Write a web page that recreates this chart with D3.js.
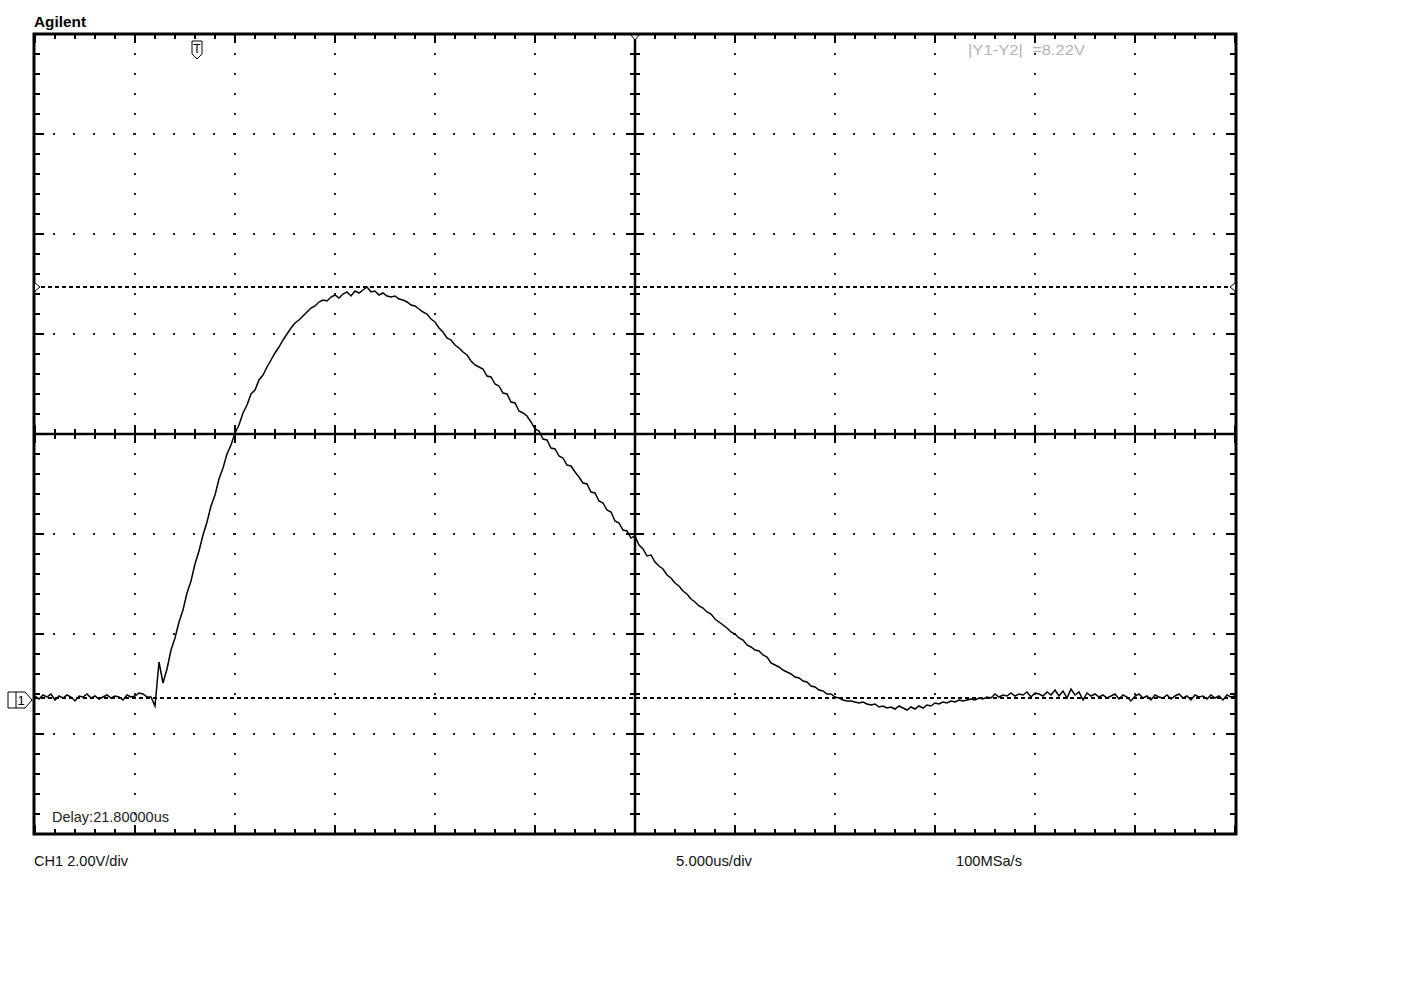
<!DOCTYPE html>
<html>
<head>
<meta charset="utf-8">
<script src="https://cdn.jsdelivr.net/npm/d3@7"></script>
<style>
  body { margin: 0; background: #fff; }
  text { font-family: "Liberation Sans Narrow", "Arial Narrow", "Liberation Sans", Arial, sans-serif; }
</style>
</head>
<body>
<svg id="scope"></svg>
<script>
// scope settings
const timeStart = -30;      // us, left edge of screen
const timeEnd = 30;         // us, right edge
const sampleStep = 0.2;     // us between stored points
const voltsPerDiv = 2;
const usPerDiv = 5;
const cursorY1 = 8.22;      // V
const cursorY2 = 0;         // V
const labels = {
  brand: "Agilent",
  delta: "|Y1-Y2|  =8.22V",
  delay: "Delay:21.80000us",
  ch1: "CH1 2.00V/div",
  timebase: "5.000us/div",
  rate: "100MSa/s"
};

// CH1 trace in volts, one value per sampleStep
const baseline = [0.04, -0.02, 0.06, 0.02, 0.08, -0.04, 0.04, 0.00, 0.06, 0.02,
  -0.06, 0.04, 0.02, 0.08, 0.00, 0.04, -0.02, 0.02, 0.06, 0.00,
  0.04, 0.02, -0.04, 0.06, 0.02, 0.04, 0.10, 0.08, 0.02];
const riseEdge = [0.02, -0.16, 0.72, 0.30, 0.58, 0.96, 1.20, 1.52, 1.76, 2.10,
  2.34, 2.68, 2.94, 3.26, 3.52, 3.84, 4.06, 4.38, 4.60, 4.88, 5.06, 5.30];
const peak = [5.46, 5.70, 5.86, 6.08, 6.16, 6.36, 6.46, 6.62, 6.76, 6.90,
  7.02, 7.16, 7.28, 7.40, 7.50, 7.56, 7.64, 7.72, 7.80, 7.84,
  7.92, 7.96, 7.94, 8.02, 8.06, 8.00, 8.08, 8.12, 8.04, 8.14,
  8.10, 8.16, 8.22, 8.12, 8.14, 8.06, 8.10, 8.04, 8.02, 8.04,
  7.98, 7.96, 7.92, 7.86, 7.84, 7.78, 7.72, 7.68, 7.58, 7.52];
const fallEdge = [7.40, 7.32, 7.20, 7.16, 7.06, 7.00, 6.92, 6.86, 6.74, 6.66,
  6.62, 6.58, 6.44, 6.42, 6.28, 6.24, 6.10, 6.08, 5.92, 5.90,
  5.74, 5.70, 5.64, 5.52, 5.38, 5.34, 5.18, 5.16, 5.00, 4.98,
  4.84, 4.80, 4.66, 4.64, 4.52, 4.42, 4.30, 4.28, 4.12, 4.10,
  3.94, 3.90, 3.76, 3.72, 3.54, 3.50, 3.36, 3.34, 3.20, 3.24];
const tail = [3.06, 2.98, 2.84, 2.86, 2.72, 2.64, 2.58, 2.46, 2.40, 2.30,
  2.24, 2.14, 2.08, 1.98, 1.92, 1.84, 1.80, 1.72, 1.68, 1.58,
  1.52, 1.46, 1.40, 1.32, 1.28, 1.20, 1.16, 1.06, 1.02, 0.96,
  0.94, 0.86, 0.82, 0.70, 0.66, 0.62, 0.56, 0.52, 0.48, 0.42,
  0.40, 0.34, 0.32, 0.24, 0.22, 0.16, 0.14, 0.08, 0.08, 0.02,
  0.00, -0.04];
const settle = [-0.06, -0.06, -0.08, -0.10, -0.08, -0.12, -0.14, -0.12, -0.18, -0.16,
  -0.20, -0.18, -0.22, -0.16, -0.20, -0.24, -0.18, -0.22, -0.16, -0.20,
  -0.14, -0.16, -0.10, -0.12, -0.08, -0.10, -0.06, -0.08, -0.04, -0.06,
  -0.04, -0.02, -0.04, 0.00, -0.02, 0.02, 0.00, 0.08, 0.02, 0.06,
  0.04, 0.10, 0.04, 0.08, 0.06, 0.12, 0.02, 0.10, 0.08, 0.04,
  0.12, 0.06, 0.16, 0.04, 0.14, 0.00, 0.18, 0.06, 0.12, -0.04,
  0.10, 0.04, 0.08, 0.02, 0.06, 0.00, 0.04, 0.08, -0.02, 0.06,
  0.02, -0.06, 0.04, 0.08, 0.00, 0.04, -0.04, 0.06, 0.02, 0.00,
  0.06, -0.02, 0.04, 0.08, 0.00, 0.04, -0.04, 0.06, 0.02, 0.04,
  -0.02, 0.06, 0.00, 0.04, -0.04, 0.06, 0.02, 0.04];
const ch1 = [].concat(baseline, riseEdge, peak, fallEdge, tail, settle);

const width = 1403, height = 1001;
const gLeft = 34, gRight = 1236, gTop = 34, gBottom = 834;

const svg = d3.select("#scope").attr("width", width).attr("height", height);
svg.append("rect").attr("width", width).attr("height", height).attr("fill", "#fff");

const x = d3.scaleLinear().domain([timeStart, timeEnd]).range([35, 1235]);
// ground marker sits 1.36 div above the bottom edge
const y = d3.scaleLinear().domain([-1.36 * voltsPerDiv, 6.64 * voltsPerDiv]).range([gBottom, gTop]);

const yDivs = d3.range(9).map(i => y.domain()[0] + i * voltsPerDiv);
const xDivs = d3.range(timeStart, timeEnd + 0.001, usPerDiv);
const yMinor = d3.range(41).map(i => y.domain()[0] + i * voltsPerDiv / 5);
const xMinor = d3.range(timeStart, timeEnd + 0.001, usPerDiv / 5);
const midV = yDivs[4];

// dotted graticule
const grid = svg.append("g").attr("stroke", "#222").attr("stroke-width", 2)
  .attr("stroke-dasharray", "2,18").attr("stroke-dashoffset", 1);
grid.selectAll(".gx").data(xDivs.filter(t => t !== 0 && t > timeStart && t < timeEnd))
  .enter().append("line")
  .attr("x1", d => Math.round(x(d))).attr("x2", d => Math.round(x(d)))
  .attr("y1", gTop).attr("y2", gBottom);
grid.selectAll(".gy").data(yDivs.filter((d, i) => i > 0 && i < 8 && i !== 4))
  .enter().append("line")
  .attr("y1", d => Math.round(y(d))).attr("y2", d => Math.round(y(d)))
  .attr("x1", gLeft).attr("x2", gRight);

// center axes
const axes = svg.append("g").attr("stroke", "#000");
axes.append("line").attr("x1", gLeft).attr("x2", gRight)
  .attr("y1", y(midV)).attr("y2", y(midV)).attr("stroke-width", 2.5);
axes.append("line").attr("x1", x(0)).attr("x2", x(0))
  .attr("y1", gTop).attr("y2", gBottom).attr("stroke-width", 2.5);

const isMajorT = t => Math.abs(t / usPerDiv - Math.round(t / usPerDiv)) < 1e-6;
const isMajorV = (v, i) => i % 5 === 0;

axes.selectAll(".tx").data(xMinor).enter().append("line")
  .attr("stroke-width", 2)
  .attr("x1", d => Math.round(x(d))).attr("x2", d => Math.round(x(d)))
  .attr("y1", d => y(midV) - (isMajorT(d) ? 9 : 5))
  .attr("y2", d => y(midV) + (isMajorT(d) ? 9 : 5));
axes.selectAll(".ty").data(yMinor).enter().append("line")
  .attr("stroke-width", 2)
  .attr("y1", d => Math.round(y(d))).attr("y2", d => Math.round(y(d)))
  .attr("x1", (d, i) => x(0) - (isMajorV(d, i) ? 9 : 5))
  .attr("x2", (d, i) => x(0) + (isMajorV(d, i) ? 9 : 5));

// frame ticks
const frame = svg.append("g").attr("stroke", "#000").attr("stroke-width", 2);
xMinor.forEach(t => {
  const px = Math.round(x(t)), len = isMajorT(t) ? 9 : 5;
  frame.append("line").attr("x1", px).attr("x2", px).attr("y1", gTop).attr("y2", gTop + len);
  frame.append("line").attr("x1", px).attr("x2", px).attr("y1", gBottom).attr("y2", gBottom - len);
});
yMinor.forEach((v, i) => {
  const py = Math.round(y(v)), len = isMajorV(v, i) ? 10 : 6;
  frame.append("line").attr("y1", py).attr("y2", py).attr("x1", gLeft).attr("x2", gLeft + len);
  frame.append("line").attr("y1", py).attr("y2", py).attr("x1", gRight).attr("x2", gRight - len);
});
svg.append("rect").attr("x", gLeft).attr("y", gTop)
  .attr("width", gRight - gLeft).attr("height", gBottom - gTop)
  .attr("fill", "none").attr("stroke", "#000").attr("stroke-width", 3);

// cursors
[cursorY1, cursorY2].forEach(v => {
  svg.append("line").attr("x1", gLeft).attr("x2", gRight)
    .attr("y1", Math.round(y(v))).attr("y2", Math.round(y(v)))
    .attr("stroke", "#000").attr("stroke-width", 2).attr("stroke-dasharray", "4,3");
});
const cy1 = Math.round(y(cursorY1));
svg.append("path").attr("d", `M${gLeft + 1},${cy1 - 4}L${gLeft + 6},${cy1}L${gLeft + 1},${cy1 + 4}`)
  .attr("fill", "#fff").attr("stroke", "#000");
svg.append("path").attr("d", `M${gRight - 1},${cy1 - 4}L${gRight - 6},${cy1}L${gRight - 1},${cy1 + 4}`)
  .attr("fill", "#fff").attr("stroke", "#000");

// trace
const line = d3.line()
  .x((d, i) => x(timeStart + i * sampleStep))
  .y(d => y(d));
svg.append("path").datum(ch1).attr("d", line)
  .attr("fill", "none").attr("stroke", "#000").attr("stroke-width", 1.5)
  .attr("stroke-linejoin", "miter");

// ground marker for channel 1
const gy = Math.round(y(0)) + 2;
svg.append("path").attr("d", `M8,${gy - 8}H25L32,${gy}L25,${gy + 8}H8Z`)
  .attr("fill", "#fff").attr("stroke", "#000").attr("stroke-width", 1);
svg.append("line").attr("x1", 16).attr("x2", 16).attr("y1", gy - 8).attr("y2", gy + 8)
  .attr("stroke", "#000");
svg.append("text").attr("x", 21).attr("y", gy + 5).attr("font-size", 13)
  .attr("text-anchor", "middle").text("1");

// trigger marker and time reference
const tx = Math.round(x(-21.9));
svg.append("path").attr("d", `M${tx - 5},41H${tx + 5}V54L${tx},59L${tx - 5},54Z`)
  .attr("fill", "#fff").attr("stroke", "#000");
svg.append("text").attr("x", tx).attr("y", 53).attr("font-size", 12)
  .attr("text-anchor", "middle").text("T");
svg.append("path").attr("d", `M${x(0) - 4},35L${x(0) + 4},35L${x(0)},40Z`)
  .attr("fill", "#fff").attr("stroke", "#000");

// labels
svg.append("text").attr("x", 34).attr("y", 27).attr("font-size", 15)
  .attr("font-weight", "bold").style("font-family", "'Liberation Sans', Arial, sans-serif")
  .attr("textLength", 52).attr("lengthAdjust", "spacingAndGlyphs").text(labels.brand);
svg.append("text").attr("x", 968).attr("y", 55).attr("font-size", 15).attr("fill", "#b4b4b4")
  .style("white-space", "pre")
  .attr("textLength", 117).attr("lengthAdjust", "spacingAndGlyphs").text(labels.delta);
svg.append("text").attr("x", 52).attr("y", 822).attr("font-size", 15).attr("fill", "#222")
  .attr("textLength", 117).attr("lengthAdjust", "spacingAndGlyphs").text(labels.delay);
svg.append("text").attr("x", 34).attr("y", 866).attr("font-size", 15).attr("fill", "#111")
  .attr("textLength", 94).attr("lengthAdjust", "spacingAndGlyphs").text(labels.ch1);
svg.append("text").attr("x", 676).attr("y", 866).attr("font-size", 15).attr("fill", "#111")
  .attr("textLength", 76).attr("lengthAdjust", "spacingAndGlyphs").text(labels.timebase);
svg.append("text").attr("x", 956).attr("y", 866).attr("font-size", 15).attr("fill", "#111")
  .attr("textLength", 66).attr("lengthAdjust", "spacingAndGlyphs").text(labels.rate);
</script>
</body>
</html>
